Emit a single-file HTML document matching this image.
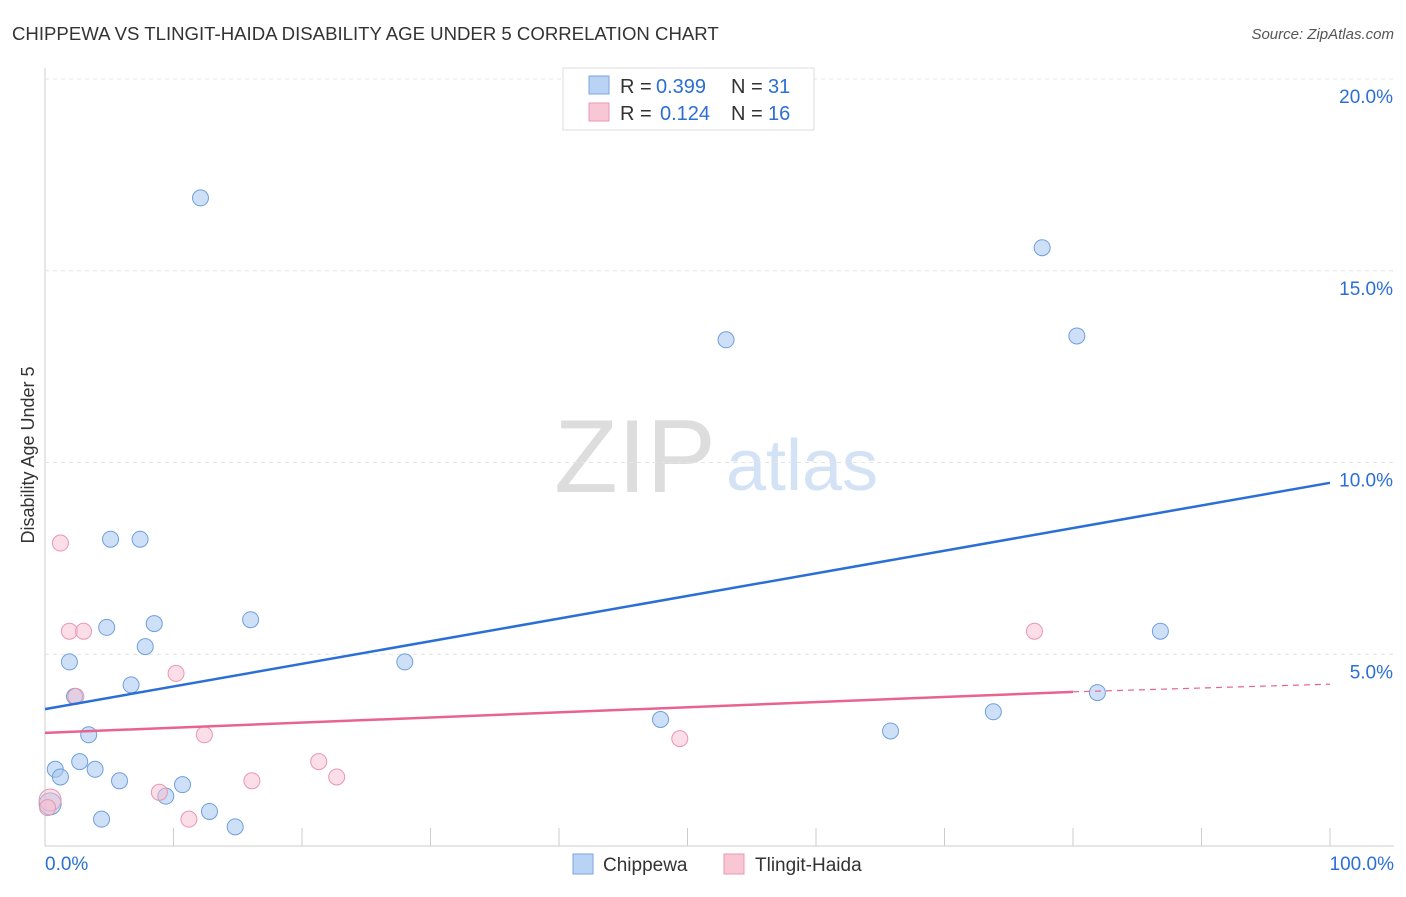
<!DOCTYPE html>
<html><head><meta charset="utf-8"><style>
body{margin:0;background:#fff;font-family:"Liberation Sans",sans-serif}
svg text{font-family:"Liberation Sans",sans-serif}
</style></head><body>
<svg id="c" width="1406" height="892">
<text x="12" y="40" font-size="18.6" fill="#333">CHIPPEWA VS TLINGIT-HAIDA DISABILITY AGE UNDER 5 CORRELATION CHART</text>
<text x="1394" y="39" font-size="15" fill="#555" text-anchor="end" font-style="italic">Source: ZipAtlas.com</text>
<text x="635" y="492" font-size="104" fill="#ddd" font-family="Liberation Serif" text-anchor="middle">ZIP</text>
<text x="802" y="490" font-size="72" fill="#d4e2f5" text-anchor="middle">atlas</text>
<text transform="translate(34,455) rotate(-90)" font-size="18" fill="#333" text-anchor="middle">Disability Age Under 5</text>
<g id="grid"></g><g id="pts"></g>
<g>
<rect x="563" y="68" width="251" height="62" fill="#fff" stroke="#ddd"/>
<rect x="589" y="76" width="20" height="18" fill="#b9d3f5" stroke="#7aa6e0"/>
<rect x="589" y="103" width="20" height="18" fill="#f9c6d4" stroke="#e898b0"/>
<text x="620" y="93" font-size="20" fill="#333">R =</text>
<text x="656" y="93" font-size="20" fill="#2b6fd6">0.399</text>
<text x="731" y="93" font-size="20" fill="#333">N =</text>
<text x="768" y="93" font-size="20" fill="#2b6fd6">31</text>
<text x="620" y="120" font-size="20" fill="#333">R =</text>
<text x="660" y="120" font-size="20" fill="#2b6fd6">0.124</text>
<text x="731" y="120" font-size="20" fill="#333">N =</text>
<text x="768" y="120" font-size="20" fill="#2b6fd6">16</text>
</g>
<g>
<rect x="573" y="854" width="20" height="20" fill="#b9d3f5" stroke="#7aa6e0"/>
<text x="603" y="871" font-size="19" fill="#333">Chippewa</text>
<rect x="724" y="854" width="20" height="20" fill="#f9c6d4" stroke="#e898b0"/>
<text x="755" y="871" font-size="19" fill="#333">Tlingit-Haida</text>
</g>
</svg>
<script>
const yTicks=[5,10,15,20];
const xTickLabels=["0.0%","100.0%"];
const blueX=[12.1,77.6,53.0,80.3,5.1,7.4,8.5,4.8,16.0,7.8,1.9,28.0,6.7,2.3,81.9,47.9,73.8,3.4,65.8,2.7,0.8,3.9,1.2,5.8,10.7,9.4,12.8,4.4,14.8,86.8,0.4];
const blueY=[16.9,15.6,13.2,13.3,8.0,8.0,5.8,5.7,5.9,5.2,4.8,4.8,4.2,3.9,4.0,3.3,3.5,2.9,3.0,2.2,2.0,2.0,1.8,1.7,1.6,1.3,0.9,0.7,0.5,5.6,1.1];
const pinkX=[1.2,1.9,3.0,2.4,10.2,12.4,49.4,77.0,21.3,22.7,16.1,8.9,11.2,0.4,0.2];
const pinkY=[7.9,5.6,5.6,3.9,4.5,2.9,2.8,5.6,2.2,1.8,1.7,1.4,0.7,1.2,1.0];
const blueTrend=[3.57,9.47];
const pinkTrend=[2.95,4.02,4.22];
const pinkSolidEnd=80;
const X=v=>45+v*12.85, Y=v=>846-v*38.35;
const ns="http://www.w3.org/2000/svg";
function mk(p,t,a){const e=document.createElementNS(ns,t);for(const k in a)e.setAttribute(k,a[k]);p.appendChild(e);return e;}
const g=document.getElementById('grid');
const ax=mk(g,'line',{x1:45,y1:68,x2:45,y2:846,stroke:'#ccc'});


const bx=mk(g,'line',{x1:45,y1:846,x2:1394,y2:846,stroke:'#ccc'});


yTicks.forEach(t=>{
 const l=mk(g,'line',{x1:45,y1:Y(t),x2:1394,y2:Y(t),stroke:'#e4e4e4','stroke-dasharray':'4,4'});
 
 
 const tx=mk(g,'text',{x:1393,y:Y(t)+24,'font-size':19,fill:'#2b6fd6','text-anchor':'end'});
 tx.textContent=t.toFixed(1)+'%';
 
 
});
for(let i=1;i<=10;i++){const t=mk(g,'line',{x1:X(i*10),y1:828,x2:X(i*10),y2:846,stroke:'#ccc'});
 
 }
[[0,'start',45],[100,'end',1394]].forEach((d,i)=>{const t=mk(g,'text',{x:d[2],y:870,'font-size':19,fill:'#2b6fd6','text-anchor':d[1]});t.textContent=xTickLabels[i];
 
 });
const p=document.getElementById('pts');
blueX.forEach((x,i)=>{const c=mk(p,'circle',{cx:X(x),cy:Y(blueY[i]),r:i==30?11:8,fill:'rgba(165,198,240,0.55)',stroke:'#6f9fdc','stroke-width':1});
 
 });
pinkX.forEach((x,i)=>{const c=mk(p,'circle',{cx:X(x),cy:Y(pinkY[i]),r:i==13?11:8,fill:'rgba(248,190,208,0.5)',stroke:'#e897b0','stroke-width':1});
 
 });
const bl=mk(p,'line',{x1:X(0),y1:Y(blueTrend[0]),x2:X(100),y2:Y(blueTrend[1]),stroke:'#2b6fd6','stroke-width':2.5});


const pl=mk(p,'line',{x1:X(0),y1:Y(pinkTrend[0]),x2:X(pinkSolidEnd),y2:Y(pinkTrend[1]),stroke:'#e8638f','stroke-width':2.5});


const pd=mk(p,'line',{x1:X(pinkSolidEnd),y1:Y(pinkTrend[1]),x2:X(100),y2:Y(pinkTrend[2]),stroke:'#e8638f','stroke-width':1.2,'stroke-dasharray':'6,5'});


</script>
</body></html>
